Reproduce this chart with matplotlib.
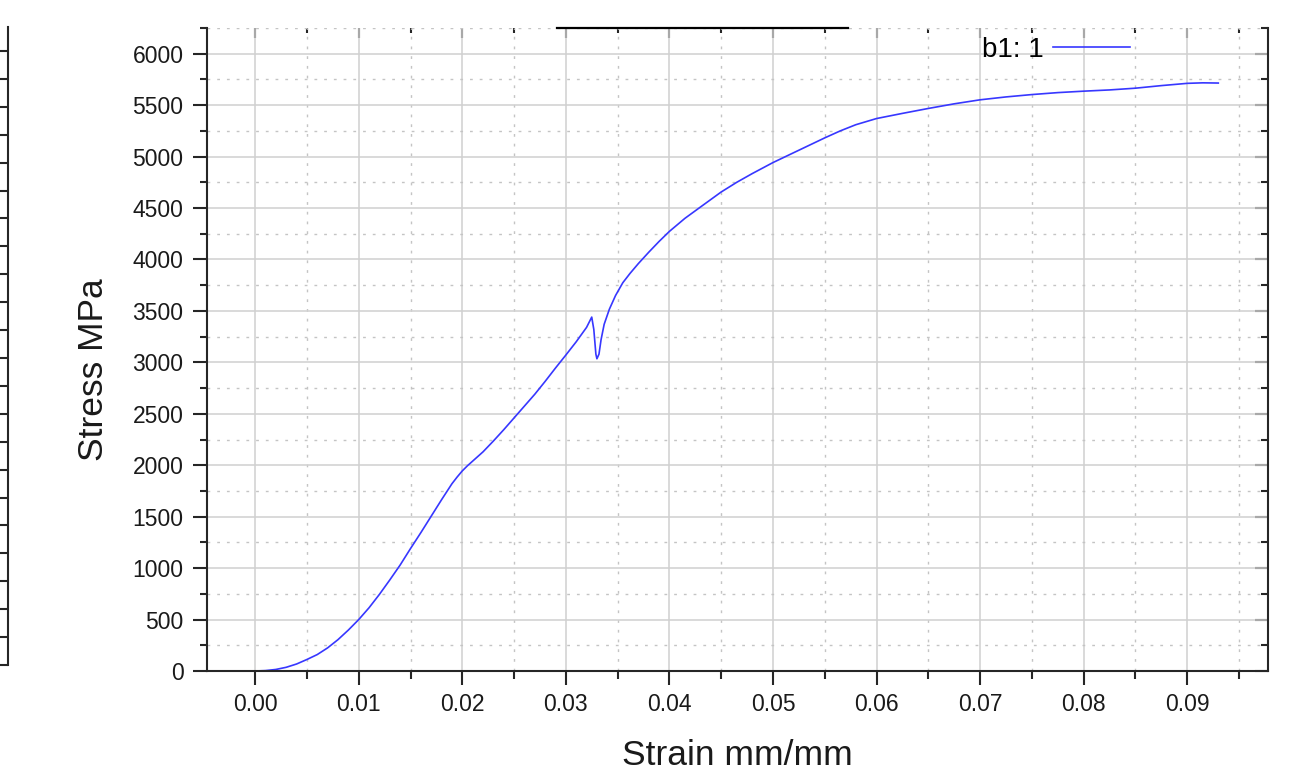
# import
import numpy as np
import matplotlib
matplotlib.use('Agg')
import matplotlib.pyplot as plt
from matplotlib.lines import Line2D
from matplotlib.ticker import MultipleLocator, FormatStrFormatter

# data (strain mm/mm, stress MPa)
strain = [0.0, 0.001, 0.002, 0.003, 0.004, 0.005, 0.006, 0.007, 0.008, 0.009,
          0.010, 0.011, 0.012, 0.013, 0.014, 0.015, 0.016, 0.017, 0.018, 0.019,
          0.0195, 0.020, 0.0205, 0.021, 0.022, 0.023, 0.024, 0.025, 0.026, 0.027,
          0.028, 0.029, 0.030, 0.031, 0.032, 0.0325, 0.0327, 0.0329, 0.0330, 0.0332,
          0.0334, 0.0337, 0.0342, 0.0348, 0.0355, 0.0362, 0.0370, 0.0380, 0.0390, 0.0400,
          0.0415, 0.0430, 0.0450, 0.0465, 0.0480, 0.0500, 0.0525, 0.0550, 0.0565, 0.0580,
          0.0600, 0.0625, 0.0650, 0.0675, 0.0700, 0.0725, 0.0750, 0.0775, 0.0800, 0.0825,
          0.0850, 0.0875, 0.0900, 0.0915, 0.0930]
stress = [0, 4, 15, 36, 68, 112, 160, 225, 305, 398,
          500, 615, 745, 885, 1030, 1190, 1345, 1505, 1665, 1820,
          1885, 1945, 1995, 2040, 2130, 2235, 2345, 2460, 2575, 2690,
          2815, 2945, 3071, 3200, 3340, 3440, 3320, 3080, 3035, 3080,
          3220, 3370, 3516, 3650, 3774, 3865, 3960, 4070, 4175, 4273,
          4400, 4510, 4656, 4750, 4835, 4942, 5062, 5182, 5250, 5310,
          5370, 5420, 5468, 5513, 5552, 5580, 5603, 5622, 5636, 5648,
          5665, 5690, 5712, 5717, 5715]
series_name = 'b1: 1'
x_label = 'Strain mm/mm'
y_label = 'Stress MPa'

# colors and fonts
spine_col = '#262626'
blue = '#3737ff'
plt.rcParams['font.family'] = ['Liberation Sans', 'DejaVu Sans']

W, H = 1308, 777
fig = plt.figure(figsize=(W / 100, H / 100), dpi=100)
ax = fig.add_axes([207 / W, 1 - 671 / H, (1268 - 207) / W, (671 - 28) / H])

# curve
ax.plot(strain, stress, color=blue, lw=1.2, label=series_name)

# limits and ticks
ax.set_xlim(-0.00465, 0.0978)
ax.set_ylim(0, 6250)
ax.xaxis.set_major_locator(MultipleLocator(0.01))
ax.xaxis.set_minor_locator(MultipleLocator(0.005))
ax.yaxis.set_major_locator(MultipleLocator(500))
ax.yaxis.set_minor_locator(MultipleLocator(250))
ax.xaxis.set_major_formatter(FormatStrFormatter('%.2f'))

# grid
ax.grid(which='major', ls='-', lw=1.1, color='#d0d0d0')
ax.grid(which='minor', ls=(0, (2, 5)), lw=1.0, color='#c4c4c4')
ax.set_axisbelow(True)

# spines
for side in ['left', 'bottom', 'right']:
    ax.spines[side].set_color(spine_col)
    ax.spines[side].set_linewidth(1.5)
ax.spines['top'].set_visible(False)

ax.tick_params(axis='x', which='major', direction='out', length=10, width=1.5,
               color=spine_col, labelsize=16.5, pad=6, labelcolor='#1a1a1a')
ax.tick_params(axis='x', which='minor', direction='out', length=6, width=1.5, color=spine_col)
ax.tick_params(axis='y', which='major', direction='out', length=10, width=1.5,
               color=spine_col, labelsize=16.5, pad=7, labelcolor='#1a1a1a')
ax.tick_params(axis='y', which='minor', direction='out', length=5, width=1.5, color=spine_col)

# inward ticks on top
top = ax.secondary_xaxis('top')
top.xaxis.set_major_locator(MultipleLocator(0.01))
top.xaxis.set_minor_locator(MultipleLocator(0.005))
top.spines['top'].set_visible(False)
top.tick_params(which='major', direction='in', length=7.5, width=1.5, color=spine_col, labeltop=False)
top.tick_params(which='minor', direction='in', length=3.5, width=1.5, color=spine_col)

# inward ticks on right
right = ax.secondary_yaxis('right')
right.yaxis.set_major_locator(MultipleLocator(500))
right.yaxis.set_minor_locator(MultipleLocator(250))
right.spines['right'].set_visible(False)
right.tick_params(which='major', direction='in', length=9.5, width=1.5, color=spine_col, labelright=False)
right.tick_params(which='minor', direction='in', length=5, width=1.5, color=spine_col)

# axis labels
ax.set_xlabel(x_label, fontsize=25.5, color='#1a1a1a')
ax.set_ylabel(y_label, fontsize=25.5, color='#1a1a1a')
ax.xaxis.set_label_coords(0.5, -0.105)
ax.yaxis.set_label_coords(-0.0914, 0.468)

# legend, text before line
ax.legend(loc='center left', bbox_to_anchor=(0.7304, 0.9658), frameon=False,
          markerfirst=False, handlelength=2.75, handletextpad=0.35,
          borderaxespad=0, borderpad=0, fontsize=20)

# black segment on top edge
fig.add_artist(Line2D([557 / W, 848 / W], [1 - 28 / H, 1 - 28 / H],
                      color='black', lw=1.6, transform=fig.transFigure))

# fragment of neighbouring axis at left edge
frag = fig.add_axes([8 / W, 1 - 665 / H, 0.03, 638 / H])
frag.set_ylim(0, 638)
frag.set_yticks(np.linspace(0, 614, 23))
frag.set_xticks([])
frag.set_yticklabels([])
for side in ['top', 'bottom', 'right']:
    frag.spines[side].set_visible(False)
frag.spines['left'].set_color(spine_col)
frag.spines['left'].set_linewidth(1.5)
frag.tick_params(axis='y', direction='out', length=6, width=1.5, color=spine_col)
frag.patch.set_alpha(0)

fig.savefig('out.png', dpi=100)
